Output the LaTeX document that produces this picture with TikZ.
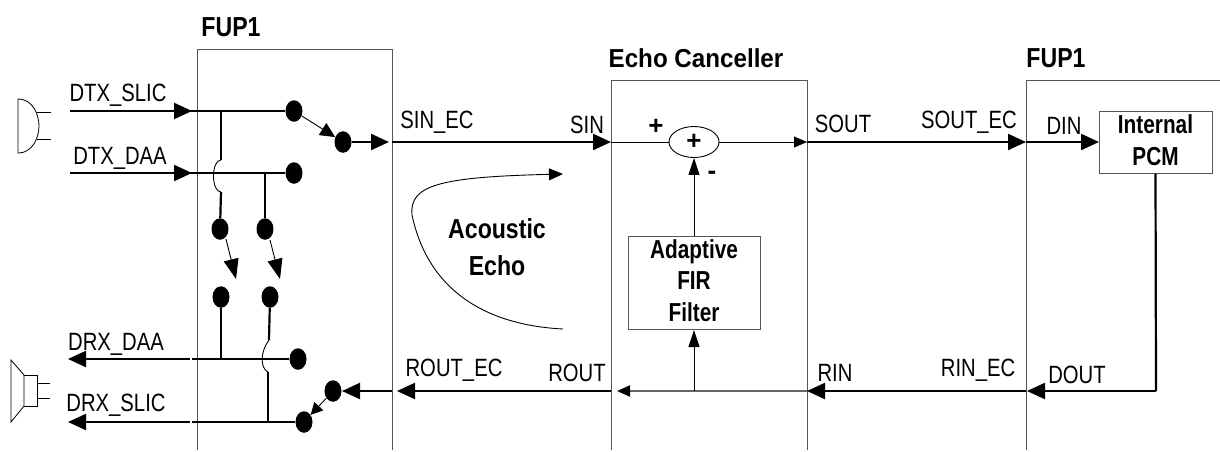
\documentclass[tikz,border=0pt]{standalone}
\usepackage{fontspec}
\usetikzlibrary{arrows.meta,shapes.geometric}
\setmainfont{Liberation Sans}
\newfontfamily\narfont[FakeStretch=0.81]{Liberation Sans}
\newfontfamily\boldbox[FakeStretch=0.8,BoldFont={Liberation Sans Bold}]{Liberation Sans}
\newfontfamily\boldhead[FakeStretch=0.84,BoldFont={Liberation Sans Bold}]{Liberation Sans}
\newfontfamily\boldecho[FakeStretch=0.93,BoldFont={Liberation Sans Bold}]{Liberation Sans}
\definecolor{edge}{HTML}{555555}
\tikzset{
  sig/.style={font=\narfont\fontsize{25}{28}\selectfont,inner sep=0pt,anchor=base},
  head/.style={font=\boldecho\bfseries\fontsize{26}{28}\selectfont,inner sep=0pt,anchor=base},
  headn/.style={font=\boldhead\bfseries\fontsize{27.5}{28}\selectfont,inner sep=0pt,anchor=base},
  mark1/.style={font=\bfseries\fontsize{26}{28}\selectfont,inner sep=0pt,anchor=base},
  dot/.style={ellipse,fill=black,draw=none,inner sep=0pt,minimum width=17pt,minimum height=21.5pt},
  heavy/.style={line width=2.2pt,black},
  thin1/.style={line width=0.9pt,black},
  frame/.style={line width=1pt,edge},
  bigtip/.style={-{Triangle[length=18pt,width=16pt]}},
  midtip/.style={-{Triangle[length=13pt,width=11pt]}},
  symb/.style={line width=0.8pt,black},
  box/.style={draw=edge,line width=1pt,align=center,inner sep=0pt,text depth=4pt,
    font=\boldbox\bfseries\fontsize{26}{31.7}\selectfont},
}
\begin{document}
\begin{tikzpicture}[x=1pt,y=-1pt]
\useasboundingbox (0,0) rectangle (1220,451);
% frames
\coordinate (f1a) at (197,450); \coordinate (f1b) at (197,49); \coordinate (f1c) at (392,49); \coordinate (f1d) at (392,450);
\coordinate (e1a) at (611,450); \coordinate (e1b) at (611,80); \coordinate (e1c) at (807,80); \coordinate (e1d) at (807,450);
\coordinate (f2a) at (1026,450); \coordinate (f2b) at (1026,80); \coordinate (f2c) at (1220,80);
\draw[frame] (f1a) -- (f1b) -- (f1c) -- (f1d);
\draw[frame] (e1a) -- (e1b) -- (e1c) -- (e1d);
\draw[frame] (f2a) -- (f2b) -- (f2c);
% dots
\node[dot] (s1) at (294,111) {};
\node[dot] (s2) at (343,142) {};
\node[dot] (s3) at (294,173) {};
\node[dot] (u1) at (220,229) {};
\node[dot] (u2) at (265,229) {};
\node[dot] (l1) at (221,297) {};
\node[dot] (l2) at (270,297) {};
\node[dot] (r1) at (298,359) {};
\node[dot] (r2) at (304,422) {};
\node[dot] (r3) at (333,391) {};
% blocks
\node[draw=black,line width=0.9pt,ellipse,minimum width=50pt,minimum height=31pt,inner sep=0pt,font=\bfseries\fontsize{26}{28}\selectfont] (sum) at (694,142) {+};
\node[box,minimum width=132pt,minimum height=93pt] (fir) at (694,282.5) {Adaptive\\FIR\\Filter};
\node[box,minimum width=113pt,minimum height=62pt] (pcm) at (1155.5,142) {Internal\\PCM};
% connector ends
\coordinate (tx1a) at (70,111); \coordinate (tx1b) at (192,111); \coordinate (tx1c) at (190,111);
\coordinate (tx2a) at (70,173); \coordinate (tx2b) at (192,173); \coordinate (tx2c) at (190,173);
\coordinate (j1) at (221,111); \coordinate (j1a) at (221,160); \coordinate (j1b) at (221,192);
\coordinate (j2) at (265,173);
\coordinate (t1a) at (226,239); \coordinate (t1b) at (236,279);
\coordinate (t2a) at (270,240); \coordinate (t2b) at (280,279);
\coordinate (o1) at (389,142);
\coordinate (si0) at (392,142); \coordinate (si1) at (611,142);
\coordinate (so0) at (807,142); \coordinate (so1) at (1026,142); \coordinate (so2) at (1099,142);
\coordinate (pcmc) at (1156,391); \coordinate (do1) at (1027,391);
\coordinate (ri0) at (1026,391); \coordinate (ri1) at (807,391); \coordinate (ri2) at (617,391);
\coordinate (ro0) at (611,391); \coordinate (ro1) at (397,391);
\coordinate (in0) at (392,391); \coordinate (in1) at (342,391);
\coordinate (rj) at (694,391); \coordinate (firb) at (694,330);
\coordinate (d1a) at (192,359); \coordinate (d1b) at (190,359); \coordinate (d1c) at (68,359);
\coordinate (d2a) at (192,422); \coordinate (d2b) at (190,422); \coordinate (d2c) at (68,422);
\coordinate (j3) at (221,359); \coordinate (j4a) at (269,340); \coordinate (j4b) at (268,372); \coordinate (j4c) at (268,422);
\coordinate (ae0) at (563,329); \coordinate (ae1) at (563,174);
% transmit side
\draw[heavy,bigtip] (tx1a) -- (tx1b);
\draw[heavy] (tx1c) -- (s1);
\draw[heavy,bigtip] (tx2a) -- (tx2b);
\draw[heavy] (tx2c) -- (s3);
\draw[thin1,-{Triangle[length=15pt,width=14pt]}] (s1) -- (s2);
\draw[heavy,bigtip] (s2) -- (o1);
\draw[heavy] (j1) -- (j1a);
\draw[thin1] (j1a) .. controls (211,160) and (211,192) .. (j1b);
\draw[heavy] (j1b) -- (u1);
\draw[heavy] (j2) -- (u2);
\draw[thin1,-{Triangle[length=20pt,width=15pt]}] (t1a) -- (t1b);
\draw[thin1,-{Triangle[length=20pt,width=15pt]}] (t2a) -- (t2b);
% echo path
\draw[heavy,bigtip] (si0) -- (si1);
\draw[thin1] (si1) -- (sum);
\draw[thin1,midtip] (sum) -- (so0);
\draw[heavy,bigtip] (so0) -- (so1);
\draw[heavy,bigtip] (so1) -- (so2);
\draw[heavy] (pcm.south) -- (pcmc);
\draw[heavy,bigtip] (pcmc) -- (do1);
\draw[heavy,bigtip] (ri0) -- (ri1);
\draw[line width=2pt,black!60,-{Triangle[length=13pt,width=11pt,color=black]}] (ri1) -- (ri2);
\draw[heavy,bigtip] (ro0) -- (ro1);
\draw[heavy,bigtip] (in0) -- (in1);
\draw[thin1,-{Triangle[length=17pt,width=11pt]}] (rj) -- (firb);
\draw[thin1,-{Triangle[length=17pt,width=11pt]}] (fir) -- (sum);
% receive side
\draw[thin1,-{Triangle[length=12pt,width=12pt]}] (r3) -- (r2);
\draw[heavy] (r1) -- (d1a);
\draw[heavy,bigtip] (d1b) -- (d1c);
\draw[heavy] (r2) -- (d2a);
\draw[heavy,bigtip] (d2b) -- (d2c);
\draw[heavy] (l1) -- (j3);
\draw[heavy] (l2) -- (j4a);
\draw[thin1] (j4a) .. controls (260,352) and (260,368) .. (j4b);
\draw[heavy] (j4b) -- (j4c);
% acoustic echo
\draw[thin1,-{Triangle[length=14pt,width=12pt]}] (ae0) .. controls (485,325) and (428,290) .. (412,215) .. controls (409,185) and (440,177) .. (ae1);
% microphone
\coordinate (m1) at (18,99); \coordinate (m2) at (18,153); \coordinate (m3) at (37,112); \coordinate (m4) at (51,112); \coordinate (m5) at (37,139); \coordinate (m6) at (51,139);
\draw[symb] (m1) .. controls (33,99) and (39,115) .. (39,126) .. controls (39,137) and (33,153) .. (m2) -- cycle;
\draw[symb] (m3) -- (m4);
\draw[symb] (m5) -- (m6);
% speaker
\coordinate (k1) at (11,360); \coordinate (k2) at (24,375); \coordinate (k3) at (24,406); \coordinate (k4) at (11,422);
\coordinate (k5) at (37,375); \coordinate (k6) at (37,406);
\coordinate (k7) at (37,383); \coordinate (k8) at (50,383); \coordinate (k9) at (37,398); \coordinate (k10) at (50,398);
\draw[symb] (k1) -- (k2) -- (k3) -- (k4) -- cycle;
\draw[symb] (k2) -- (k5) -- (k6) -- (k3);
\draw[symb] (k7) -- (k8);
\draw[symb] (k9) -- (k10);
% labels
\node[sig] (a1) at (118,101) {DTX\_SLIC};
\node[sig] (a2) at (120,164) {DTX\_DAA};
\node[sig] (a3) at (116,350) {DRX\_DAA};
\node[sig] (a4) at (116,411) {DRX\_SLIC};
\node[sig] (a5) at (437,128) {SIN\_EC};
\node[sig] (a6) at (587,133) {SIN};
\node[sig] (a7) at (843,132) {SOUT};
\node[sig] (a8) at (969,128) {SOUT\_EC};
\node[sig] (a9) at (1064,134) {DIN};
\node[sig] (a10) at (454,376) {ROUT\_EC};
\node[sig] (a11) at (577,381) {ROUT};
\node[sig] (a12) at (835,381) {RIN};
\node[sig] (a13) at (978,376) {RIN\_EC};
\node[sig] (a14) at (1077,383) {DOUT};
\node[head] (b1) at (696,67) {Echo Canceller};
\node[headn] (b2) at (231,36) {FUP1};
\node[headn] (b3) at (1056,67) {FUP1};
\node[headn] (b4) at (497,238) {Acoustic};
\node[headn] (b5) at (497,275) {Echo};
\node[mark1] (c1) at (656,134) {+};
\node[mark1] (c2) at (712,179) {-};
\end{tikzpicture}
\end{document}
